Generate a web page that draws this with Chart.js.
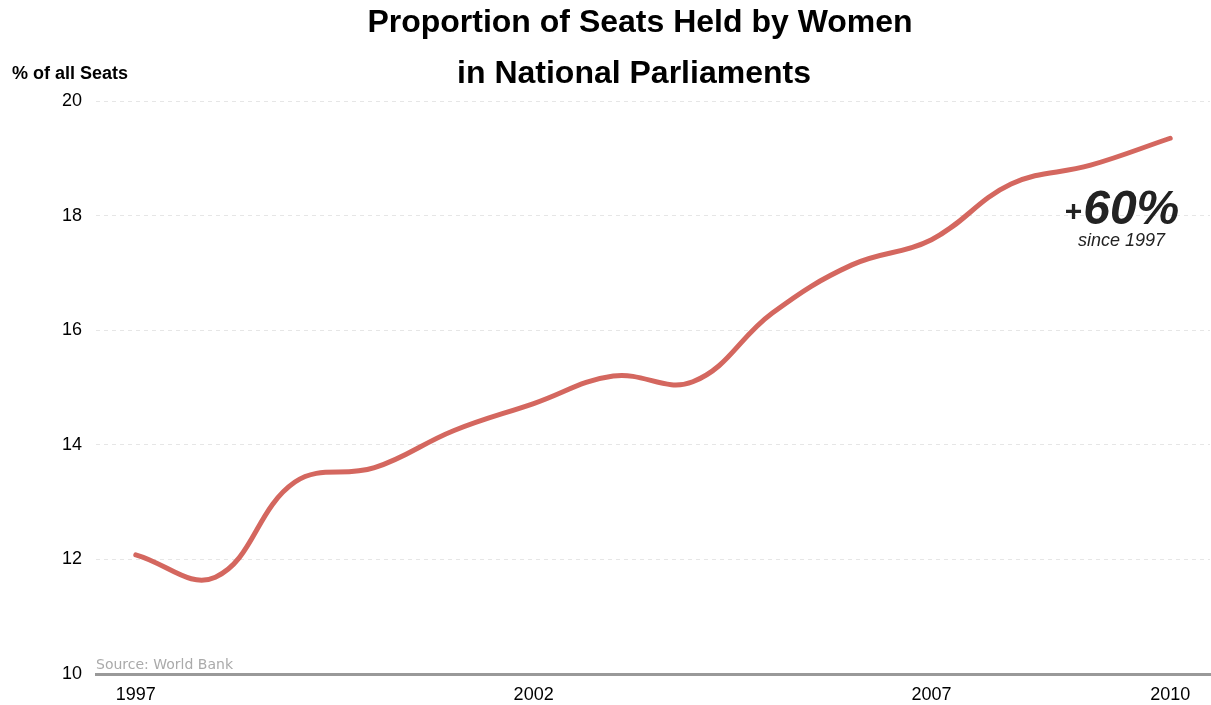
<!DOCTYPE html>
<html>
<head>
<meta charset="utf-8">
<script src="https://cdn.jsdelivr.net/npm/chart.js@4"></script>
<style>
html,body{margin:0;padding:0;background:#fff;}
#wrap{position:relative;width:1211px;height:705px;}
</style>
</head>
<body>
<div id="wrap"><canvas id="c" width="1211" height="705"></canvas></div>
<script>
const years = ['1997','1998','1999','2000','2001','2002','2003','2004','2005','2006','2007','2008','2009','2010'];
const seatsPct = [12.08, 11.69, 13.35, 13.6, 14.25, 14.72, 15.2, 15.1, 16.3, 17.14, 17.58, 18.55, 18.88, 19.35];
const shownYears = ['1997','2002','2007','2010'];
const titleLines = ['Proportion of Seats Held by Women', 'in National Parliaments'];
const yAxisLabel = '% of all Seats';
const sourceText = 'Source: World Bank';
const growthBig = '60%';
const growthSign = '+';
const growthSub = 'since 1997';

const FONT = '"Liberation Sans", Arial, sans-serif';

const annot = {
  id: 'annot',
  afterDraw(chart) {
    const ctx = chart.ctx;
    const area = chart.chartArea;
    ctx.save();
    ctx.fillStyle = '#000';
    ctx.textAlign = 'center';
    ctx.textBaseline = 'middle';
    ctx.font = 'bold 32px ' + FONT;
    ctx.fillText(titleLines[0], 640, 23);
    ctx.fillText(titleLines[1], 634, 74);
    ctx.textAlign = 'left';
    ctx.font = 'bold 18px ' + FONT;
    ctx.fillText(yAxisLabel, 12, 74);
    ctx.fillStyle = '#aaa';
    ctx.font = '14px "DejaVu Sans", sans-serif';
    ctx.textBaseline = 'alphabetic';
    ctx.fillText(sourceText, area.left, area.bottom - 5);
    // growth annotation, anchored near the last data points
    const xs = chart.scales.x, ys = chart.scales.y;
    const cx = xs.getPixelForValue(years.length - 1.6);
    const cy = ys.getPixelForValue(18.1);
    ctx.fillStyle = '#222';
    ctx.textBaseline = 'alphabetic';
    ctx.font = 'italic bold 48px ' + FONT;
    const wBig = ctx.measureText(growthBig).width;
    ctx.font = 'bold 30px ' + FONT;
    const wSign = ctx.measureText(growthSign).width;
    const startX = cx - (wBig + wSign) / 2 - 1;
    ctx.textAlign = 'left';
    ctx.fillText(growthSign, startX, cy + 11);
    ctx.font = 'italic bold 48px ' + FONT;
    ctx.fillText(growthBig, startX + wSign + 1, cy + 14);
    ctx.textAlign = 'center';
    ctx.font = 'italic 18px ' + FONT;
    ctx.fillText(growthSub, cx - 1, cy + 36);
    ctx.restore();
  }
};

new Chart(document.getElementById('c'), {
  type: 'line',
  data: {
    labels: years,
    datasets: [{
      data: seatsPct,
      borderColor: '#d4675f',
      borderWidth: 5,
      pointRadius: 0,
      tension: 0.4,
      fill: false,
      borderCapStyle: 'round'
    }]
  },
  options: {
    responsive: false,
    animation: false,
    layout: { padding: { top: 101, right: 1, left: 0, bottom: 0 } },
    plugins: { legend: { display: false }, tooltip: { enabled: false }, title: { display: false } },
    scales: {
      x: {
        offset: true,
        afterFit(scale) { scale.height = 31; },
        grid: { display: false, drawTicks: false },
        border: { display: true, color: '#999', width: 3 },
        ticks: {
          autoSkip: false,
          maxRotation: 0,
          padding: 10,
          color: '#000',
          font: { family: FONT, size: 18 },
          callback: function(v) { const l = this.getLabelForValue(v); return shownYears.includes(l) ? l : ''; }
        }
      },
      y: {
        min: 10, max: 20,
        afterFit(scale) { scale.width = 96; },
        grid: { color: '#e6e6e6', drawTicks: false, lineWidth: 1 },
        border: { display: false, dash: [4, 4] },
        ticks: {
          stepSize: 2,
          padding: 14,
          color: '#000',
          font: { family: FONT, size: 18 }
        }
      }
    }
  },
  plugins: [annot]
});
</script>
</body>
</html>
